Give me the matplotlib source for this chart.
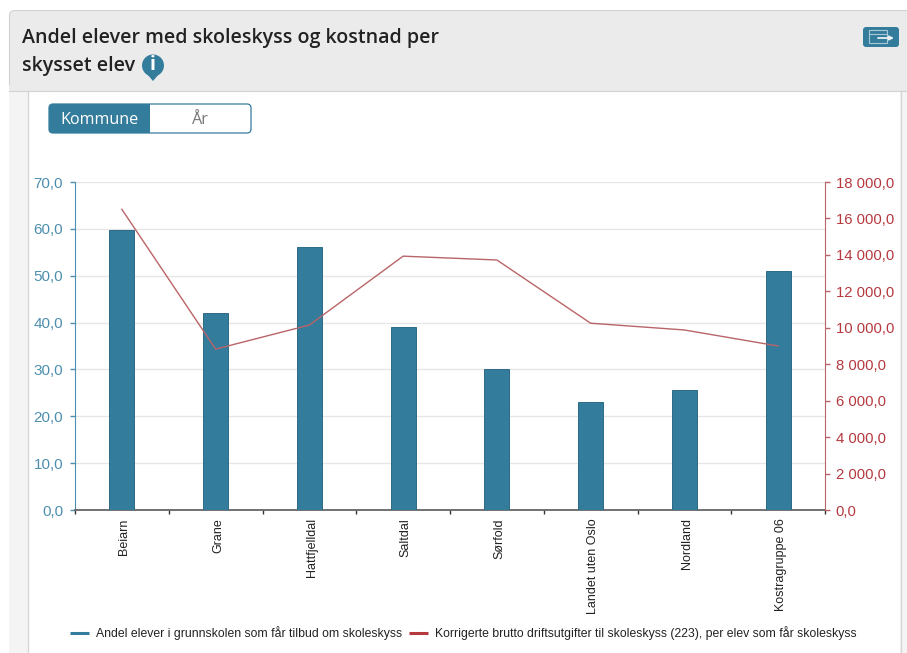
import numpy as np
import matplotlib
matplotlib.use('Agg')
import matplotlib.pyplot as plt
from matplotlib.patches import Rectangle, FancyBboxPatch, Circle, Polygon

W, H = 907, 653

kommuner = ['Beiarn', 'Grane', 'Hattfjelldal', 'Saltdal', 'Sørfold',
            'Landet uten Oslo', 'Nordland', 'Kostragruppe 06']
andel = [59.8, 42.0, 56.2, 39.0, 30.0, 23.0, 25.6, 51.0]
kostnad = [16500, 8830, 10150, 13930, 13720, 10250, 9880, 9000]
left_ticks = [0, 10, 20, 30, 40, 50, 60, 70]
right_ticks = [0, 2000, 4000, 6000, 8000, 10000, 12000, 14000, 16000, 18000]

BLUE = '#347c9c'
RED = '#b5393f'
LINE_RED = '#b96468'
TICK_BLUE = '#4d8fae'


def add_round(x0, y0, x1, y1, r, **kw):
    bg.add_patch(FancyBboxPatch((x0 + r, y0 + r), x1 - x0 - 2 * r, y1 - y0 - 2 * r,
                                boxstyle='round,pad=%f,rounding_size=%f' % (r, r), **kw))


def sep(v, dec=1):
    s = f'{v:,.{dec}f}'
    return s.replace(',', ' ').replace('.', ',')


fig = plt.figure(figsize=(W / 100, H / 100), dpi=100, facecolor='white')

# page furniture, in pixel coords
bg = fig.add_axes([0, 0, 1, 1], zorder=0)
bg.set_xlim(0, W)
bg.set_ylim(H, 0)
bg.axis('off')
bg.add_patch(Rectangle((9, 91), 19, H - 91, fc='#f4f4f4', ec='none'))
bg.add_patch(Rectangle((900, 91), 7, H - 91, fc='#f4f4f4', ec='none'))
bg.plot([28, 28], [91, H], color='#d6d6d6', lw=1)
bg.plot([900.5, 900.5], [91, H], color='#d6d6d6', lw=1)
add_round(9.5, 10.5, 930, 91, 5, fc='#ebebeb', ec='#d2d2d2', lw=0.8)
bg.add_patch(Rectangle((9, 85), W, 6, fc='#ebebeb', ec='none'))
bg.plot([9, W], [91, 91], color='#d2d2d2', lw=0.8)
bg.text(22, 38.5, 'Andel elever med skoleskyss og kostnad per', fontsize=14.1, family='Open Sans',
        fontweight='semibold', color='#222222', va='center')
bg.text(22, 66.5, 'skysset elev', fontsize=14.1, family='Open Sans',
        fontweight='semibold', color='#222222', va='center')

# info pin
bg.add_patch(Circle((153, 65.5), 11, fc=BLUE, ec='none'))
bg.add_patch(Polygon([[147, 74], [159, 74], [153, 81]], fc=BLUE, ec='none'))
bg.text(153, 65.5, 'i', color='white', fontsize=14, family='Open Sans', fontweight='bold',
        ha='center', va='center')

# export button
add_round(863, 27, 899, 47, 3, fc=BLUE, ec='none')
bg.add_patch(Rectangle((869, 29.5), 18, 13.5, fc='none', ec='#a9c8d6', lw=0.8))
bg.plot([869, 887], [33.5, 33.5], color='#a9c8d6', lw=0.8)
bg.annotate('', xy=(894, 38), xytext=(878, 38),
            arrowprops=dict(arrowstyle='-|>', color='#e8f0f4', lw=1.3, mutation_scale=6,
                            shrinkA=0, shrinkB=0))

# Kommune / År toggle
add_round(49, 104, 158, 133, 4, fc=BLUE, ec='none')
bg.add_patch(Rectangle((150, 103), 10, 31, fc='white', ec='none'))
add_round(49, 104, 251, 133, 4, fc='none', ec=BLUE, lw=0.9)
bg.text(99.5, 119.5, 'Kommune', color='white', fontsize=11.6, family='Open Sans', ha='center', va='center')
bg.text(200.5, 119.5, 'År', color='#777777', fontsize=11.6, family='Open Sans', ha='center', va='center')

# chart
x0, x1, ytop, ybot = 75, 825, 182, 510
ax = fig.add_axes([x0 / W, 1 - ybot / H, (x1 - x0) / W, (ybot - ytop) / H], zorder=2)
ax.patch.set_alpha(0)
x = np.arange(len(kommuner))
ax.bar(x, andel, width=0.265, color=BLUE, edgecolor='#2b6a86', linewidth=0.7, zorder=3)
ax.set_xlim(-0.5, len(kommuner) - 0.5)
ax.set_ylim(0, 70)
ax.set_yticks(left_ticks)
ax.set_yticklabels([sep(v) for v in left_ticks], fontsize=11, family='Liberation Sans', color=TICK_BLUE)
ax.tick_params(axis='y', color=TICK_BLUE, length=3.6, width=1, pad=5)
ax.yaxis.grid(True, color='#e6e6e6', lw=1)
ax.set_axisbelow(True)
ax.set_xticks(np.arange(len(kommuner) + 1) - 0.5)
ax.set_xticklabels([])
ax.tick_params(axis='x', color='#333333', length=3.2, width=1)
for i, name in enumerate(kommuner):
    ax.annotate(name, (i, 0), xytext=(1.8, -6), textcoords='offset points', xycoords='data',
                rotation=90, ha='center', va='top', fontsize=9.0, family='Liberation Sans',
                color='#222222', annotation_clip=False)
for s in ['top', 'right']:
    ax.spines[s].set_visible(False)
ax.spines['left'].set_color(TICK_BLUE)
ax.spines['bottom'].set_color('#666666')
ax.spines['bottom'].set_linewidth(1.3)

ax2 = ax.twinx()
ax2.plot(x, kostnad, color=LINE_RED, lw=1.0, zorder=4)
ax2.set_ylim(0, 18000)
ax2.set_yticks(right_ticks)
ax2.set_yticklabels([sep(v) for v in right_ticks], fontsize=10.7, family='Liberation Sans', color=RED)
ax2.tick_params(axis='y', color=LINE_RED, length=3.6, width=1, pad=4, direction='out')
for s in ['top', 'left', 'bottom']:
    ax2.spines[s].set_visible(False)
ax2.spines['right'].set_color(LINE_RED)

# legend
bg.plot([70, 89], [633, 633], color=BLUE, lw=2.2, solid_capstyle='butt')
bg.text(96, 633, 'Andel elever i grunnskolen som får tilbud om skoleskyss', fontsize=8.8,
        family='Liberation Sans', color='#222222', va='center')
bg.plot([409, 428], [633, 633], color=RED, lw=2.2, solid_capstyle='butt')
bg.text(435, 633, 'Korrigerte brutto driftsutgifter til skoleskyss (223), per elev som får skoleskyss',
        fontsize=8.83, family='Liberation Sans', color='#222222', va='center')

fig.savefig('out.png', dpi=100)
